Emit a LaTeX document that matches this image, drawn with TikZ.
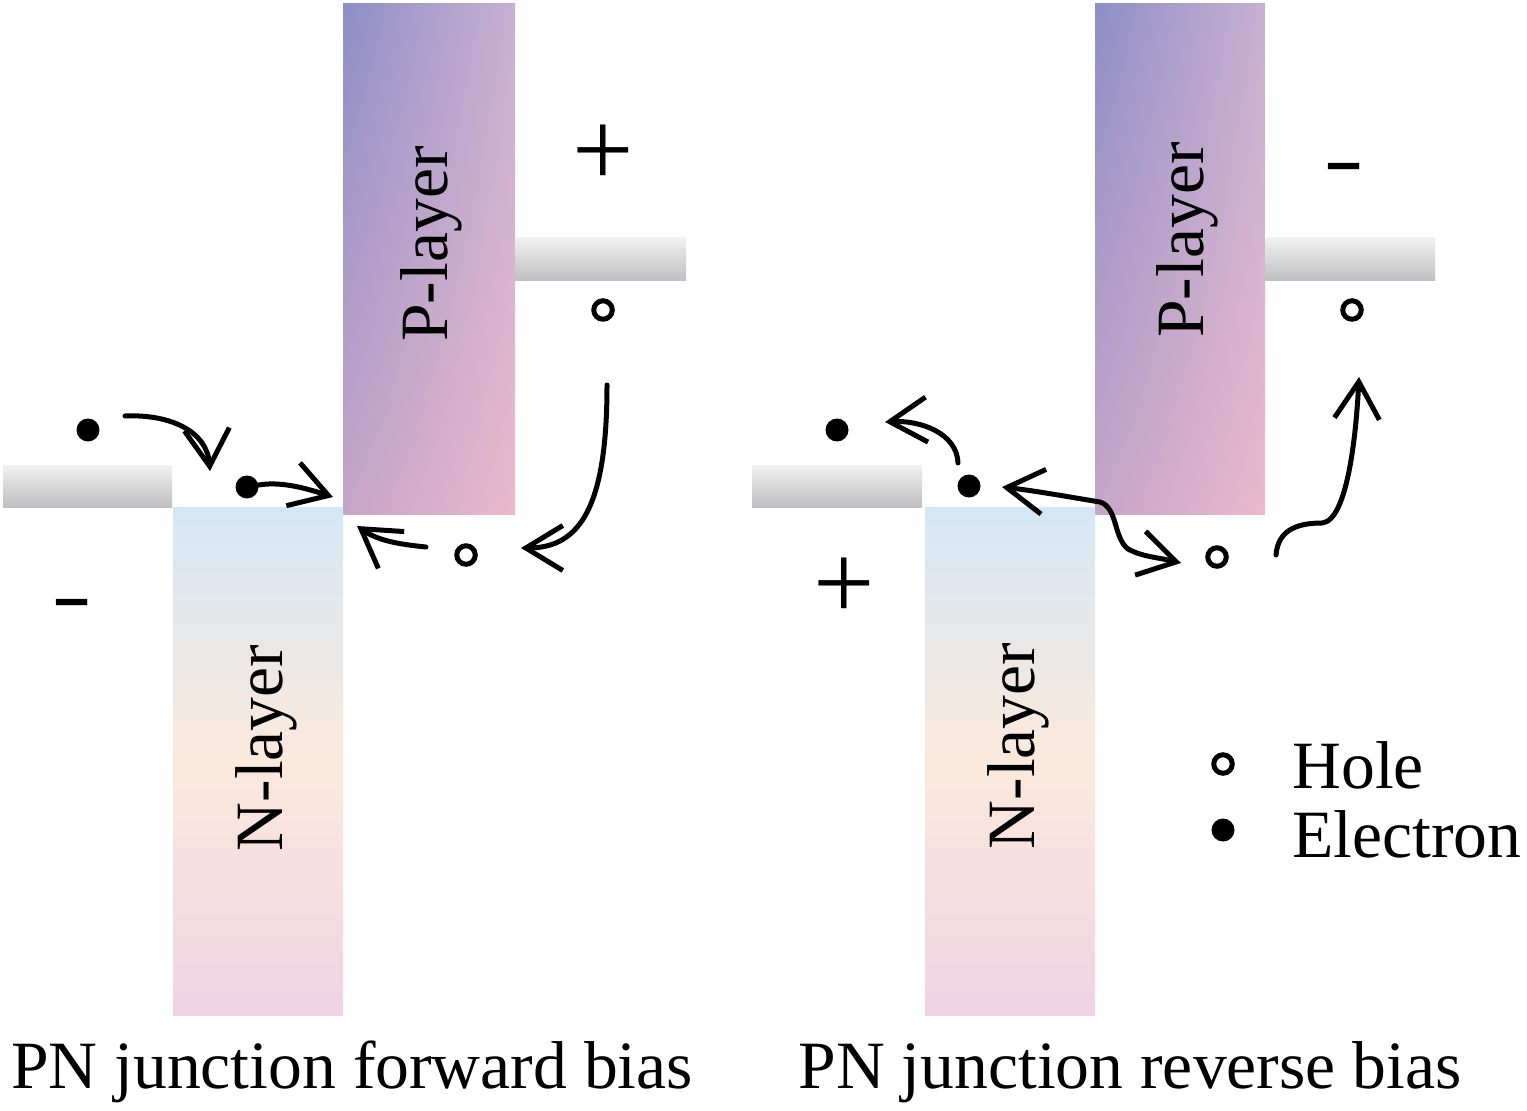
\documentclass[tikz,border=0pt]{standalone}
\usepackage{fontspec}
\setmainfont{Liberation Serif}
\newfontfamily\signfont{Liberation Sans}
\usetikzlibrary{arrows.meta,shadings}

\definecolor{ptl}{HTML}{8E8EC6}
\definecolor{ptr}{HTML}{C8B0D2}
\definecolor{pbl}{HTML}{C6A5CA}
\definecolor{pbr}{HTML}{E9B9CC}
\definecolor{ntop}{HTML}{D4E7F5}
\definecolor{nmid}{HTML}{FBE9DC}
\definecolor{nbot}{HTML}{F0D3E4}
\definecolor{bartop}{HTML}{F0F0F0}
\definecolor{barbot}{HTML}{BFBFC1}

\begin{document}
\begin{tikzpicture}[x=0.02cm, y=-0.02cm,
  electron/.style={circle, fill=black, inner sep=0pt, minimum size=0.46cm},
  hole/.style={circle, draw=black, line width=0.1cm, inner sep=0pt, minimum size=0.37cm},
  flow/.style={line width=0.1cm, line cap=round, line join=round, -{Straight Barb[length=0.74cm,width=0.9cm]}},
  txt/.style={font=\fontsize{38.5}{40}\selectfont, inner sep=0pt},
  plustxt/.style={font=\fontsize{62}{62}\selectfont, inner sep=0pt, anchor=base},
  minustxt/.style={font=\signfont\bfseries\fontsize{36}{36}\selectfont, inner sep=0pt, anchor=base}]
 \useasboundingbox (0,0) rectangle (1527,1111);

 % forward bias
 \shade[upper left=ptl, upper right=ptr, lower left=pbl, lower right=pbr] (343,4) rectangle (515,514);
 \shade[top color=ntop, bottom color=nbot, middle color=nmid] (173,507) rectangle (343,1015);
 \shade[top color=bartop, bottom color=barbot] (3,465) rectangle (172,507);
 \shade[top color=bartop, bottom color=barbot] (515,238) rectangle (686,281);

 \node[txt, rotate=90, anchor=base] (pl1) at (447,244) {P-layer};
 \node[txt, rotate=90, anchor=base] (nl1) at (282,748) {N-layer};
 \node[plustxt] (plus1) at (603,187) {+};
 \node[minustxt] (minus1) at (72,619) {–};

 \node[electron] (e1) at (88,430) {};
 \node[electron] (e2) at (247,487) {};
 \node[hole] (h1) at (466,555) {};
 \node[hole] (h2) at (603,310) {};

 \coordinate (a1) at (125,416);
 \coordinate (a2) at (210,471);
 \coordinate (b2) at (333,497);
 \coordinate (c1) at (426,547);
 \coordinate (c2) at (357,526);
 \coordinate (d1) at (607,385);
 \coordinate (d2) at (521,548);
 \draw[flow] (a1) .. controls +(45,-2) and +(-3,-40) .. (a2);
 \draw[flow] (e2) .. controls +(35,-6) and +(-25,-8) .. (b2);
 \draw[flow] (c1) .. controls +(-30,-3) and +(20,14) .. (c2);
 \draw[flow] (d1) .. controls +(0,120) and +(60,0) .. (d2);

 \node[txt, anchor=base] (cap1) at (352,1088) {PN junction forward bias};

 % reverse bias
 \shade[upper left=ptl, upper right=ptr, lower left=pbl, lower right=pbr] (1095,4) rectangle (1265,514);
 \shade[top color=ntop, bottom color=nbot, middle color=nmid] (925,507) rectangle (1095,1015);
 \shade[top color=bartop, bottom color=barbot] (752,465) rectangle (922,507);
 \shade[top color=bartop, bottom color=barbot] (1265,238) rectangle (1435,281);

 \node[txt, rotate=90, anchor=base] (pl2) at (1203,240) {P-layer};
 \node[txt, rotate=90, anchor=base] (nl2) at (1034,746) {N-layer};
 \node[minustxt] (minus2) at (1344,184) {–};
 \node[plustxt] (plus2) at (844,619) {+};

 \node[electron] (e3) at (837,430) {};
 \node[electron] (e4) at (969,486) {};
 \node[hole] (h3) at (1217,557) {};
 \node[hole] (h4) at (1352,310) {};

 \coordinate (f1) at (958,463);
 \coordinate (f2) at (885,422);
 \coordinate (g1) at (1002,487);
 \coordinate (g3) at (1100,502);
 \coordinate (g4) at (1128,549);
 \coordinate (g2) at (1181,563);
 \coordinate (k1) at (1276,555);
 \coordinate (k3) at (1322,523);
 \coordinate (k2) at (1359,377);
 \draw[flow] (f1) .. controls +(-1,-30) and +(35,-2) .. (f2);
 \draw[flow, {Straight Barb[length=0.74cm,width=0.9cm]}-{Straight Barb[length=0.74cm,width=0.9cm]}] (g1) .. controls +(35,4) and +(-25,-4) .. (g3) .. controls +(18,6) and +(-15,-12) .. (g4) .. controls +(15,8) and +(-25,-6) .. (g2);
 \draw[flow] (k1) .. controls +(2,-25) and +(-25,0) .. (k3) .. controls +(25,-2) and +(-3,60) .. (k2);

 \node[txt, anchor=base] (cap2) at (1130,1088) {PN junction reverse bias};

 % legend
 \node[hole] (lh) at (1223,764) {};
 \node[electron] (le) at (1223,830) {};
 \node[txt, anchor=base west] (lht) at (1292,788) {Hole};
 \node[txt, anchor=base west] (lhe) at (1292,857) {Electron};
\end{tikzpicture}
\end{document}
